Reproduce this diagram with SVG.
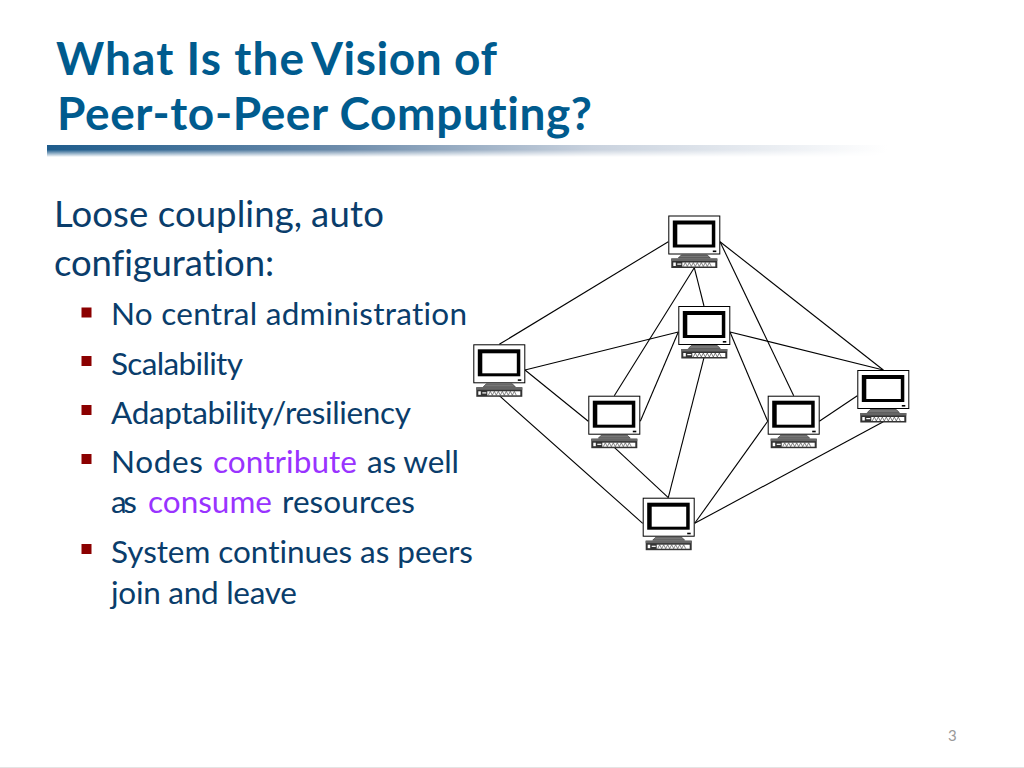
<svg xmlns="http://www.w3.org/2000/svg" xmlns:xlink="http://www.w3.org/1999/xlink" width="1024" height="768" viewBox="0 0 1024 768">
<style>
text{font-family:"Lato","Open Sans","Liberation Sans",sans-serif;font-variant-ligatures:none}
.t{font-size:46px;font-weight:700;fill:#005b8e}
.h{font-size:36.5px;fill:#0a3d6b}
.b{font-size:31.5px;fill:#0a3d6b}
.p{fill:#9933ff}
.s{fill:#8b0000}
.c line{stroke:#000;stroke-width:1.1}
</style>
<defs>
<linearGradient id="gh" x1="0" x2="1" y1="0" y2="0"><stop offset="0" stop-color="#1e5c8c"/><stop offset=".35" stop-color="#6d8cab"/><stop offset=".65" stop-color="#c9d2de"/><stop offset="1" stop-color="#fff"/></linearGradient>
<linearGradient id="gv" x1="0" x2="0" y1="0" y2="1"><stop offset="0" stop-color="#fff"/><stop offset=".4" stop-color="#fff"/><stop offset="1" stop-color="#000"/></linearGradient>
<mask id="m" maskUnits="userSpaceOnUse" x="47" y="145" width="840" height="12"><rect x="47" y="145" width="840" height="12" fill="url(#gv)"/></mask>
<symbol id="pc" overflow="visible">
<rect x=".5" y=".5" width="51" height="38" fill="#fff" stroke="#000" stroke-width="1"/>
<rect x="4.5" y="5" width="42.5" height="27" fill="#000"/>
<rect x="9" y="9" width="34.5" height="20" fill="#fff"/>
<rect x="44.5" y="35" width="3.5" height="1.6" fill="#000"/>
<path d="M10 42.5L13 39.5H39L42 42.5Z" fill="#777" stroke="#222" stroke-width=".6"/>
<rect x="3" y="43" width="46" height="9.5" fill="#333"/>
<rect x="3" y="43" width="46" height="2.5" fill="#666"/>
<rect x="14" y="47" width="33" height="4" fill="#fff"/>
<path d="M15 51l2-4 2 4 2-4 2 4 2-4 2 4 2-4 2 4 2-4 2 4 2-4 2 4 2-4 2 4" fill="none" stroke="#333" stroke-width=".6"/>
<rect x="5" y="47" width="2.5" height="3.5" fill="#fff"/>
<rect x="9" y="48" width="4" height="1.2" fill="#fff"/>
</symbol>
</defs>
<rect width="1024" height="768" fill="#fff"/>
<rect x="47" y="145" width="840" height="12" fill="url(#gh)" mask="url(#m)"/>
<rect x="0" y="767" width="1024" height="1" fill="#e4e4e4"/>
<g id="title">
<text class="t" x="56" y="75" textLength="248" lengthAdjust="spacing">What Is the</text>
<text class="t" x="311" y="75" textLength="186" lengthAdjust="spacing">Vision of</text>
<text class="t" x="57" y="130" textLength="535" lengthAdjust="spacing">Peer-to-Peer Computing?</text>
</g>
<g id="body">
<text class="h" x="54" y="227" textLength="248" lengthAdjust="spacing">Loose coupling,</text>
<text class="h" x="311" y="227" textLength="73" lengthAdjust="spacing">auto</text>
<text class="h" x="54" y="275.5" textLength="220" lengthAdjust="spacing">configuration:</text>
<rect class="s" x="81.5" y="307.5" width="10" height="10"/>
<text class="b" x="111" y="325" textLength="356" lengthAdjust="spacing">No central administration</text>
<rect class="s" x="81.5" y="356" width="10" height="10"/>
<text class="b" x="111" y="374.5" textLength="132" lengthAdjust="spacing">Scalability</text>
<rect class="s" x="81.5" y="405" width="10" height="10"/>
<text class="b" x="111" y="423.5" textLength="300" lengthAdjust="spacing">Adaptability/resiliency</text>
<rect class="s" x="81.5" y="454" width="10" height="10"/>
<text class="b" x="111" y="472.5" textLength="92" lengthAdjust="spacing">Nodes</text>
<text class="b p" x="213" y="472.5" textLength="144" lengthAdjust="spacing">contribute</text>
<text class="b" x="367" y="472.5" textLength="92" lengthAdjust="spacing">as well</text>
<text class="b" x="111" y="513" textLength="26" lengthAdjust="spacing">as</text>
<text class="b p" x="148" y="513" textLength="124" lengthAdjust="spacing">consume</text>
<text class="b" x="282" y="513" textLength="133" lengthAdjust="spacing">resources</text>
<rect class="s" x="81.5" y="544" width="10" height="10"/>
<text class="b" x="111" y="562.5" textLength="362" lengthAdjust="spacing">System continues as peers</text>
<text class="b" x="111" y="603.5" textLength="186" lengthAdjust="spacing">join and leave</text>
</g>
<g id="connectors" class="c">
<line x1="668.3" y1="241.7" x2="499.3" y2="344.3"/>
<line x1="694.3" y1="267.7" x2="704" y2="306"/>
<line x1="694.3" y1="267.7" x2="614.3" y2="395.7"/>
<line x1="720" y1="241.7" x2="793.7" y2="395.7"/>
<line x1="720" y1="241.7" x2="883.3" y2="370"/>
<line x1="678.3" y1="332" x2="525" y2="370"/>
<line x1="678.3" y1="332" x2="640.3" y2="421.3"/>
<line x1="704" y1="357.7" x2="668.3" y2="497.7"/>
<line x1="730" y1="332" x2="883.3" y2="370"/>
<line x1="730" y1="332" x2="767.7" y2="421.3"/>
<line x1="525" y1="370" x2="588.3" y2="421.3"/>
<line x1="499.3" y1="395.7" x2="642.7" y2="523.3"/>
<line x1="614.3" y1="447.3" x2="668.3" y2="497.7"/>
<line x1="767.7" y1="421.3" x2="694.7" y2="523.3"/>
<line x1="819.3" y1="421.3" x2="857.3" y2="395.7"/>
<line x1="883.3" y1="421.7" x2="694.7" y2="523.3"/>
</g>
<g id="node-top"><use xlink:href="#pc" href="#pc" x="668.3" y="215.5"/></g>
<g id="node-center"><use xlink:href="#pc" href="#pc" x="678.3" y="306"/></g>
<g id="node-left"><use xlink:href="#pc" href="#pc" x="473.3" y="344.3"/></g>
<g id="node-midleft"><use xlink:href="#pc" href="#pc" x="588.3" y="395.7"/></g>
<g id="node-midright"><use xlink:href="#pc" href="#pc" x="767.7" y="395.7"/></g>
<g id="node-right"><use xlink:href="#pc" href="#pc" x="857.3" y="370"/></g>
<g id="node-bottom"><use xlink:href="#pc" href="#pc" x="642.7" y="497.7"/></g>
<text x="948" y="741" font-size="15" fill="#9a9a9a">3</text>
</svg>
